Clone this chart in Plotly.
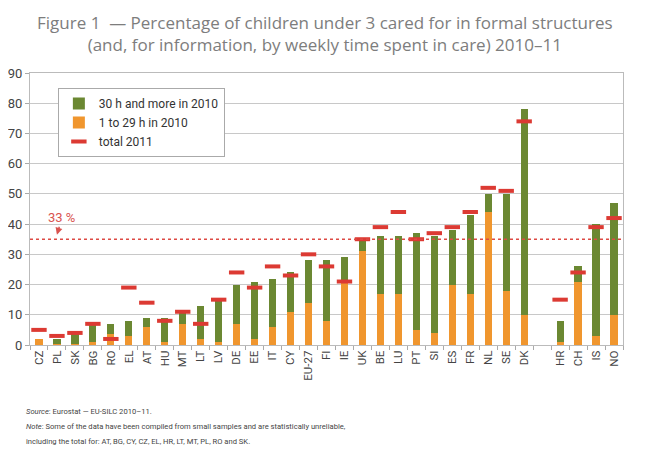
import plotly.graph_objects as go

# ---- data ----
countries = ["CZ", "PL", "SK", "BG", "RO", "EL", "AT", "HU", "MT", "LT", "LV",
             "DE", "EE", "IT", "CY", "EU-27", "FI", "IE", "UK", "BE", "LU", "PT",
             "SI", "ES", "FR", "NL", "SE", "DK", " ", "HR", "CH", "IS", "NO"]
hours_1_29_2010 = [2, 0.3, 0.3, 1, 3.5, 3, 6, 1, 7, 2, 1,
                   7, 2, 6, 11, 14, 8, 21, 31, 17, 17, 5,
                   4, 20, 17, 44, 18, 10, None, 1, 21, 3, 10]
hours_30_plus_2010 = [0, 1.7, 3.2, 6, 3.5, 5, 3, 8, 4, 11, 14,
                      13, 19, 16, 13, 14, 20, 8, 4, 19, 19, 32,
                      32, 18, 26, 6, 32, 68, None, 7, 5, 37, 37]
total_2011 = [5, 3, 4, 7, 2, 19, 14, 8, 11, 7, 15,
              24, 19, 26, 23, 30, 26, 21, 35, 39, 44, 35,
              37, 39, 44, 52, 51, 74, None, 15, 24, 39, 42]
target_line = 35
target_label = "33 %"

title_lines = [
    "Figure 1  — Percentage of children under 3 cared for in formal structures",
    "(and, for information, by weekly time spent in care) 2010–11",
]
footer = [
    "<i>Source</i>: Eurostat — EU-SILC 2010–11.",
    "<i>Note</i>: Some of the data have been compiled from small samples and are statistically unreliable,",
    "including the total for: AT, BG, CY, CZ, EL, HR, LT, MT, PL, RO and SK.",
]

GREEN = "#6b8832"
ORANGE = "#f0962e"
RED = "#dc3a33"
FONT = "Roboto, sans-serif"
TITLE_FONT = "Open Sans, Roboto, sans-serif"

fig = go.Figure()
fig.add_trace(go.Bar(x=countries, y=hours_1_29_2010, name="1 to 29 h in 2010",
                     marker=dict(color=ORANGE, line=dict(width=0)), legendrank=2))
fig.add_trace(go.Bar(x=countries, y=hours_30_plus_2010, name="30 h and more in 2010",
                     marker=dict(color=GREEN, line=dict(width=0)), legendrank=1))
fig.add_trace(go.Scatter(x=countries, y=total_2011, name="total 2011", mode="markers",
                         marker=dict(symbol="line-ew", size=11,
                                     line=dict(width=4, color=RED)),
                         legendrank=3))

fig.add_shape(type="line", xref="paper", yref="y", x0=0, x1=1,
              y0=target_line, y1=target_line,
              line=dict(color="#dd4a44", width=1.6, dash="dot"))

fig.add_annotation(x="PL", y=target_line + 1.5, text=target_label, showarrow=True,
                   ax=5, ay=-17, arrowhead=2, arrowsize=1, arrowwidth=1.4,
                   arrowcolor="#d9534f", font=dict(family=FONT, size=13, color="#d9534f"))

fig.add_annotation(xref="paper", yref="paper", x=0.4975, y=1.237,
                   xanchor="center", yanchor="top", text="<br>".join(title_lines),
                   showarrow=False, align="center",
                   font=dict(family=TITLE_FONT, size=17, color="#7d7d7d"))

for i, line in enumerate(footer):
    fig.add_annotation(xref="paper", yref="paper", x=-0.010, y=-0.243 - 0.055 * i,
                       xanchor="left", yanchor="middle", text=line, showarrow=False,
                       font=dict(family=FONT, size=7.6, color="#444"))

fig.update_layout(
    width=642, height=441,
    margin=dict(l=22, r=27, t=65, b=104, autoexpand=False),
    paper_bgcolor="white", plot_bgcolor="white",
    barmode="stack", bargap=0.6,
    showlegend=True,
    legend=dict(x=0.047, y=0.945, xanchor="left", yanchor="top",
                bordercolor="#aaaaaa", borderwidth=1, bgcolor="white",
                traceorder="normal", itemwidth=30,
                font=dict(family=FONT, size=12, color="#333")),
    xaxis=dict(type="category", range=[-0.5, len(countries) - 0.5],
               tickangle=-90, tickson="boundaries", automargin=False,
               ticks="outside", ticklen=4, tickcolor="#aaaaaa",
               showline=True, linecolor="#bbbbbb", mirror=True, showgrid=False,
               tickfont=dict(family=FONT, size=11.5, color="#444")),
    yaxis=dict(range=[0, 90], dtick=10, showgrid=True, gridcolor="#c8c8c8",
               showline=True, linecolor="#bbbbbb", mirror=True, automargin=False,
               ticks="outside", ticklen=4, tickcolor="#aaaaaa",
               zeroline=False,
               tickfont=dict(family=FONT, size=13, color="#444")),
)

fig.write_html("out.html")
